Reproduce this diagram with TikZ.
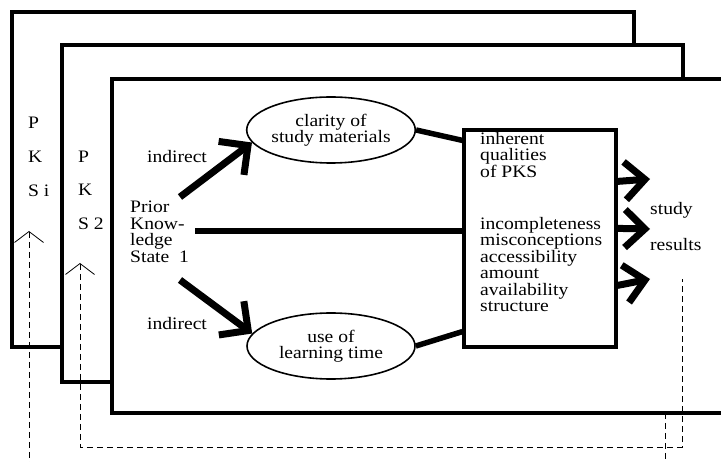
\documentclass[tikz,border=0pt]{standalone}
\usepackage{fontspec}
\setmainfont{Liberation Serif}[FakeStretch=1.12]
\usetikzlibrary{arrows.meta,positioning,calc,shapes.geometric}

\begin{document}
\begin{tikzpicture}[
    x=1pt, y=-1pt,
    frame/.style={draw, line width=3.5pt, fill=white},
    txt/.style={inner sep=0pt, align=left, font=\fontsize{17.5}{16.5}\selectfont},
    oval/.style={ellipse, draw, line width=1.6pt, minimum width=168pt, minimum height=66pt, inner sep=0pt, align=center, font=\fontsize{17.5}{16}\selectfont},
    qualbox/.style={rectangle, draw, line width=3.2pt, minimum width=152pt, minimum height=217pt, inner sep=0pt},
    bigarrow/.style={line width=7pt, -{Straight Barb[length=21pt, width=42pt]}},
    link/.style={line width=5.5pt},
    chev/.style={line width=7pt, -{Straight Barb[length=20pt, width=38pt]}},
    fback/.style={line width=0.8pt, dash pattern=on 6pt off 4pt},
    fbhead/.style={{Straight Barb[length=11pt, width=29pt, line width=0.8pt]}-}
]
\useasboundingbox (0,0) rectangle (721,462);
\clip (0,0) rectangle (721,462);

% Stacked frames
\draw[frame] (12,12) rectangle (634,347);
\draw[frame] (62,45) rectangle (683,382);
\draw[frame] (112,79) rectangle (760,413);

% Frame labels
\node[txt, anchor=west] (pi) at (28,123) {P};
\node[txt, anchor=west] (ki) at (28,157) {K};
\node[txt, anchor=west] (si) at (28,191) {S i};
\node[txt, anchor=west] (p2) at (78,157) {P};
\node[txt, anchor=west] (k2) at (78,190) {K};
\node[txt, anchor=west] (s2) at (78,224) {S 2};

% Main nodes
\node[txt, anchor=north west] (prior) at (130,201) {Prior\\Know-\\ledge\\State\ \ 1};
\node[oval] (clarity) at (331,130) {clarity of\\study materials};
\node[oval] (usetime) at (331,346) {use of\\learning time};
\node[qualbox] (pks) at (540,238.5) {};
\node[txt, anchor=north west] (inherent) at (480,132) {inherent\\qualities\\of PKS};
\node[txt, anchor=north west] (props) at (480,217) {incompleteness\\misconceptions\\accessibility\\amount\\availability\\structure};
\node[txt] (ind1) at (177,157) {indirect};
\node[txt] (ind2) at (177,324) {indirect};
\node[txt, anchor=west] (study) at (650,210) {study};
\node[txt, anchor=west] (results) at (650,245) {results};

% Connectors
\coordinate (a1) at (180,197);
\coordinate (a2) at (180,280);
\coordinate (hl) at (195,231);
\draw[bigarrow] (a1) -- (clarity.189);
\draw[bigarrow] (a2) -- (usetime.171);
\draw[link] (hl) -- (hl -| pks.west);
\draw[link] (clarity.east) -- ($(pks.north west)+(0,12)$);
\draw[link] (usetime.east) -- ($(pks.south west)+(0,-17)$);

% Results arrows
\coordinate (r1) at (650,179);
\coordinate (r2) at (650,229);
\coordinate (r3) at (650,279);
\draw[chev] ($(pks.north east)+(0,53)$) -- (r1);
\draw[chev] ($(pks.north east)+(0,100)$) -- (r2);
\draw[chev] ($(pks.north east)+(0,157)$) -- (r3);

% Feedback loops
\coordinate (fb1) at (29,231);
\coordinate (fb1end) at (29,470);
\coordinate (fb2) at (80,263);
\coordinate (fb2low) at (80,447);
\coordinate (fb2r) at (682,279);
\coordinate (fb3) at (665,413);
\coordinate (fb3end) at (665,470);
\draw[fback, fbhead] (fb1) -- (fb1end);
\draw[fback, fbhead] (fb2) -- (fb2low) -| (fb2r);
\draw[fback] (fb3) -- (fb3end);

\end{tikzpicture}
\end{document}
